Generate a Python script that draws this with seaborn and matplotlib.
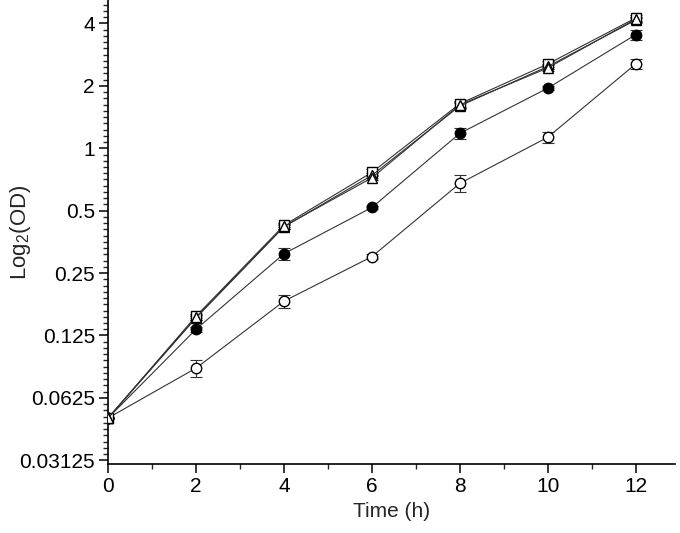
# Growth curves on a log2 OD axis
import numpy as np
import pandas as pd
import seaborn as sns
import matplotlib
matplotlib.use("Agg")
import matplotlib.pyplot as plt
from matplotlib.ticker import FixedLocator, NullFormatter

time_h = [0, 2, 4, 6, 8, 10, 12]

od_square = [0.050, 0.155, 0.425, 0.765, 1.64, 2.55, 4.25]
err_square = [0, 0.004, 0.010, 0.030, 0.05, 0.08, 0.15]
od_tri_a = [0.050, 0.153, 0.420, 0.720, 1.62, 2.44, 4.20]
err_tri_a = [0, 0.004, 0.010, 0.020, 0.05, 0.07, 0.12]
od_tri_b = [0.050, 0.152, 0.418, 0.740, 1.60, 2.48, 4.15]
err_tri_b = [0, 0.004, 0.010, 0.020, 0.05, 0.07, 0.12]
od_filled = [0.050, 0.134, 0.310, 0.518, 1.18, 1.95, 3.53]
err_filled = [0, 0.004, 0.020, 0.010, 0.07, 0.05, 0.20]
od_open = [0.050, 0.087, 0.183, 0.300, 0.677, 1.13, 2.55]
err_open = [0, 0.008, 0.013, 0.009, 0.065, 0.07, 0.15]

ytick_vals = [0.03125, 0.0625, 0.125, 0.25, 0.5, 1, 2, 4]
ytick_labels = ["0.03125", "0.0625", "0.125", "0.25", "0.5", "1", "2", "4"]

sns.set_style("ticks")
plt.rcParams["font.family"] = ["Liberation Sans", "DejaVu Sans"]
plt.rcParams["mathtext.fontset"] = "custom"
plt.rcParams["mathtext.rm"] = "Liberation Sans"

# drawn bottom to top, triangles end up on top like the reference
series = [
    ("open", od_open, err_open, "o", "white"),
    ("filled", od_filled, err_filled, "o", "black"),
    ("square", od_square, err_square, "s", "white"),
    ("tri_b", od_tri_b, err_tri_b, "^", "white"),
    ("tri_a", od_tri_a, err_tri_a, "^", "white"),
]

fig = plt.figure(figsize=(6.8, 5.33), dpi=100)
ax = fig.add_axes([0.159, 0.1295, 0.834, 0.8705])

for i, (name, vals, errs, mk, face) in enumerate(series):
    df = pd.DataFrame({"time": time_h, "od": vals})
    ax.errorbar(df["time"], df["od"], yerr=errs, fmt="none", ecolor="#333333",
                elinewidth=0.8, capsize=4, capthick=0.8, zorder=2 + i * 0.1)
    sns.lineplot(data=df, x="time", y="od", ax=ax, color="#333333", linewidth=0.8,
                 marker=mk, markersize=7.5, markerfacecolor=face,
                 markeredgecolor="black", markeredgewidth=1.0, zorder=3 + i * 0.1)

ax.set_yscale("log", base=2)
ax.set_xlim(0, 12.9)
ax.set_ylim(0.0300, 5.19)

ax.yaxis.set_major_locator(FixedLocator(ytick_vals))
ax.set_yticklabels(ytick_labels)
minor = [2 ** (k + j / 10) for k in range(-6, 3) for j in range(1, 10)]
ax.yaxis.set_minor_locator(FixedLocator(minor))
ax.yaxis.set_minor_formatter(NullFormatter())

ax.set_xticks([0, 2, 4, 6, 8, 10, 12])
ax.set_xticks(np.arange(1, 13, 2), minor=True)

ax.tick_params(axis="both", which="major", direction="out", length=6.5, width=1.1,
               labelsize=15, pad=3, colors="black")
ax.tick_params(axis="both", which="minor", direction="out", length=3.5, width=1.0)

for s in ["top", "right"]:
    ax.spines[s].set_visible(False)
for s in ["left", "bottom"]:
    ax.spines[s].set_linewidth(1.2)
    ax.spines[s].set_color("black")

ax.set_xlabel("Time (h)", fontsize=15, labelpad=4)
ax.set_ylabel(r"Log$_\mathregular{2}$(OD)", fontsize=16)
ax.yaxis.set_label_coords(-0.133, 0.5)

fig.savefig("out.png", dpi=100)
